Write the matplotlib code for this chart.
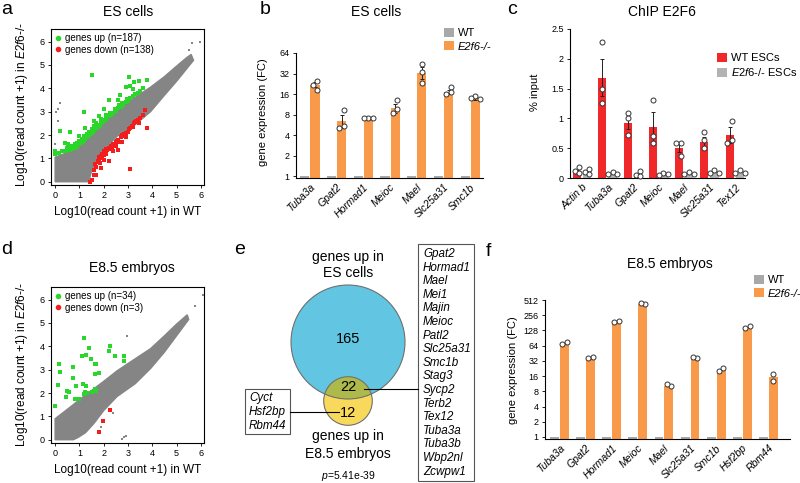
import matplotlib
matplotlib.use('Agg')
import matplotlib.pyplot as plt
import numpy as np
from matplotlib.patches import Circle, Rectangle, Patch
from matplotlib.lines import Line2D
from matplotlib.ticker import NullLocator

plt.rcParams['font.family'] = ['Liberation Sans', 'DejaVu Sans']
plt.rcParams['mathtext.fontset'] = 'custom'
plt.rcParams['mathtext.rm'] = 'Liberation Sans'
plt.rcParams['mathtext.it'] = 'Liberation Sans:italic'
plt.rcParams['axes.linewidth'] = 0.8

W, H = 800, 483

GREY_PT = '#858585'
GREEN = '#2bd62b'
RED_PT = '#f21d1d'
ORANGE = '#f99a4a'
WT_GREY = '#a8a8a8'
CHIP_RED = '#f0282a'
CHIP_GREY = '#b3b3b3'
BLUE = '#62c6e2'
YELLOW = '#f9d95c'
OLIVE = '#adba4b'

# ---------------- panel a : ES cells scatter ----------------
a_cloud_x = [0.0, 1.45, 1.42, 1.5, 1.7, 2.0, 2.55, 3.3, 3.93, 4.5, 5.0, 5.7, 5.6, 5.4, 5.0, 4.5, 3.93, 3.2, 2.55, 2.0, 1.17, 0.5, 0.0]
a_cloud_y = [0.0, 0.0, 0.15, 0.45, 0.9, 1.35, 1.95, 2.45, 3.0, 3.7, 4.3, 5.2, 5.45, 5.3, 4.95, 4.5, 4.05, 3.55, 3.03, 2.55, 1.74, 1.25, 1.05]
a_grey_x = [0.02, 0.12, 0.2, 0.1, 0.0, 5.65, 5.96, 5.51, 5.37]
a_grey_y = [3.0, 3.12, 3.35, 2.6, 1.6, 5.94, 6.0, 5.62, 5.15]
a_up_x = [0.0, 0.0, 0.15, 0.3, 0.45, 0.5, 0.55, 0.6, 0.65, 0.7, 0.7, 0.75, 0.8, 0.8, 0.85, 0.9, 0.9, 0.95,
          1.0, 1.0, 1.05, 1.1, 1.1, 1.15, 1.2, 1.2, 1.25, 1.3, 1.3, 1.35, 1.4, 1.4, 1.45, 1.5, 1.5, 1.55,
          1.6, 1.6, 1.65, 1.7, 1.7, 1.75, 1.8, 1.85, 1.9, 1.9, 1.95, 2.0, 2.05, 2.1, 2.1, 2.2, 2.25, 2.3,
          2.4, 2.45, 2.5, 2.6, 2.65, 2.7, 2.75, 2.8, 2.9, 2.95, 3.0, 3.1, 3.2, 3.3, 3.4, 3.5, 2.69, 2.2,
          2.93, 3.1, 3.2, 3.06, 3.44, 3.79, 1.17, 1.52, 0.21, 0.62, 2.0, 1.8, 1.6, 0.4, 1.25, 2.6, 3.6, 1.0, 3.24]
a_up_y = [1.3, 1.2, 1.25, 1.3, 1.3, 1.45, 1.6, 1.35, 1.45, 1.4, 1.55, 1.5, 1.45, 1.6, 1.55, 1.5, 1.65, 1.6,
          1.6, 1.75, 1.65, 1.7, 1.85, 1.75, 1.8, 1.95, 1.85, 1.9, 2.05, 1.95, 2.0, 2.15, 2.05, 2.1, 2.25, 2.15,
          2.2, 2.4, 2.25, 2.3, 2.5, 2.35, 2.4, 2.45, 2.5, 2.7, 2.55, 2.6, 2.65, 2.7, 2.85, 2.8, 2.95, 2.85,
          2.95, 3.1, 3.05, 3.15, 3.3, 3.2, 3.35, 3.3, 3.4, 3.55, 3.45, 3.6, 3.65, 3.75, 3.8, 3.9, 3.73, 3.52,
          4.05, 4.1, 3.95, 4.48, 4.31, 4.34, 2.98, 4.57, 2.16, 2.15, 3.1, 2.8, 2.6, 1.65, 2.3, 3.5, 4.0, 1.95, 4.29]
a_down_x = [1.45, 1.52, 1.58, 1.6, 1.65, 1.7, 1.75, 1.8, 1.8, 1.86, 1.85, 1.9, 1.95, 1.95, 2.0, 2.0, 2.05,
            2.1, 2.1, 2.15, 2.2, 2.23, 2.25, 2.3, 2.3, 2.35, 2.4, 2.45, 2.5, 2.5, 2.55, 2.6, 2.65, 2.7, 2.76,
            2.75, 2.8, 2.85, 2.9, 3.0, 3.05, 3.1, 3.15, 3.2, 3.25, 3.3, 3.35, 3.4, 3.5, 3.6, 3.72, 3.79, 3.1,
            2.6, 1.7, 2.0, 2.4, 1.9, 2.9, 3.45]
a_down_y = [0.0, 0.07, 0.29, 0.5, 0.75, 0.65, 0.9, 0.85, 1.05, 0.8, 1.0, 1.1, 1.0, 1.2, 1.15, 1.3, 1.25,
            1.2, 1.4, 1.35, 1.45, 0.9, 1.4, 1.55, 1.4, 1.5, 1.6, 1.55, 1.7, 1.55, 1.75, 1.8, 1.7, 1.9, 1.72,
            2.0, 1.95, 2.05, 2.1, 2.15, 2.25, 2.3, 2.4, 2.35, 2.5, 2.55, 2.6, 2.65, 2.75, 2.85, 3.08, 2.29, 0.55,
            1.35, 0.3, 0.95, 1.3, 0.6, 1.9, 2.5]
a_n_up, a_n_down = 187, 138

# ---------------- panel d : E8.5 embryos scatter ----------------
d_cloud_x = [0.0, 0.75, 0.95, 1.25, 1.6, 2.0, 2.55, 3.3, 3.93, 4.5, 5.0, 5.5, 5.44, 5.0, 4.5, 3.93, 3.2, 2.55, 2.0, 1.17, 0.5, 0.0]
d_cloud_y = [0.0, 0.0, 0.1, 0.3, 0.7, 1.25, 1.85, 2.4, 3.05, 3.75, 4.45, 5.15, 5.35, 4.95, 4.45, 3.9, 3.4, 2.95, 2.5, 1.85, 1.3, 0.9]
d_grey_x = [2.96, 2.76, 2.85, 2.93, 6.1, 5.74, 4.47, 4.06, 1.9, 2.4]
d_grey_y = [4.43, 0.03, 0.12, 0.18, 6.18, 5.72, 3.95, 3.6, 0.55, 1.15]
d_up_x = [1.17, 1.38, 2.27, 2.2, 1.1, 1.28, 1.47, 2.45, 2.82, 2.85, 0.15, 0.21, 0.73, 1.64, 1.7, 1.63, 1.79,
          0.73, 0.11, 1.14, 0.87, 1.28, 0.48, 1.21, 1.3, 1.52, 1.63, 0.59, 0.45, 0.83, 1.0, 0.0, 1.17, 1.7]
d_up_y = [4.35, 3.92, 4.03, 3.79, 3.58, 3.63, 3.46, 3.57, 3.6, 3.39, 3.25, 2.92, 3.1, 3.25, 3.25, 2.82, 2.86,
          2.63, 2.36, 2.39, 2.32, 2.32, 2.1, 2.03, 2.0, 2.06, 2.17, 2.06, 1.82, 1.75, 1.75, 1.43, 1.95, 2.1]
d_down_x = [2.25, 1.97, 1.79]
d_down_y = [1.29, 0.82, 0.34]
d_n_up, d_n_down = 34, 3

# ---------------- panel b : qPCR ES cells ----------------
b_genes = ['Tuba3a', 'Gpat2', 'Hormad1', 'Meioc', 'Mael', 'Slc25a31', 'Smc1b']
b_wt = [1, 1, 1, 1, 1, 1, 1]
b_ko = [22, 6.5, 7.0, 9.9, 33, 17, 13.6]
b_ko_err = [2.0, 1.5, 0.1, 1.5, 6.5, 1.2, 0.5]
b_ko_pts = [[24.8, 21.7, 18.4], [9.3, 5.4, 5.0], [7.0, 7.0, 7.0], [13, 9.6, 8.3],
            [43.7, 34, 23.4], [20.5, 17.3, 16], [15, 13.8, 13.4]]

# ---------------- panel c : ChIP E2F6 ----------------
c_genes = ['Actin b', 'Tuba3a', 'Gpat2', 'Meioc', 'Mael', 'Slc25a31', 'Tex12']
c_wt = [0.11, 1.68, 0.93, 0.86, 0.5, 0.6, 0.72]
c_wt_err = [0.03, 0.31, 0.1, 0.24, 0.07, 0.08, 0.13]
c_wt_pts = [[0.19, 0.12, 0.08], [2.28, 1.49, 1.26], [1.09, 1.0, 0.72], [1.31, 0.7, 0.58],
            [0.59, 0.58, 0.37], [0.78, 0.64, 0.5], [0.96, 0.63, 0.58]]
c_ko = [0.09, 0.07, 0.05, 0.05, 0.07, 0.1, 0.09]
c_ko_pts = [[0.15, 0.1, 0.07], [0.1, 0.06, 0.06], [0.12, 0.05, 0.03], [0.08, 0.05, 0.06],
            [0.1, 0.07, 0.06], [0.14, 0.09, 0.09], [0.13, 0.08, 0.09]]

# ---------------- panel e : overlap ----------------
venn_es_only, venn_both, venn_emb_only = 165, 22, 12
p_value = '5.41e-39'
genes_both = ['Gpat2', 'Hormad1', 'Mael', 'Mei1', 'Majin', 'Meioc', 'Patl2', 'Slc25a31', 'Smc1b',
              'Stag3', 'Sycp2', 'Terb2', 'Tex12', 'Tuba3a', 'Tuba3b', 'Wbp2nl', 'Zcwpw1']
genes_emb_only = ['Cyct', 'Hsf2bp', 'Rbm44']

# ---------------- panel f : qPCR E8.5 embryos ----------------
f_genes = ['Tuba3a', 'Gpat2', 'Hormad1', 'Meioc', 'Mael', 'Slc25a31', 'Smc1b', 'Hsf2bp', 'Rbm44']
f_wt = [1, 1, 1, 1, 1, 1, 1, 1, 1]
f_ko = [72, 37, 188, 430, 10.4, 36, 21, 148, 15]
f_ko_pts = [[75, 70], [39, 36], [196, 184], [425, 445], [10.4, 10.9], [36.7, 37.3], [22.6, 20.5],
            [158, 142], [17.7, 13]]


def px_axes(fig, left, top, right, bottom):
    return fig.add_axes([left / W, 1 - bottom / H, (right - left) / W, (bottom - top) / H])


def draw_scatter(ax, cloud_x, cloud_y, grey_x, grey_y, up_x, up_y, down_x, down_y, n_up, n_down):
    ax.fill(cloud_x, cloud_y, fc=GREY_PT, ec=GREY_PT, lw=1.0, zorder=1)
    ax.scatter(grey_x, grey_y, s=4, c=GREY_PT, marker='s', lw=0, zorder=2)
    ax.scatter(up_x, up_y, s=5, c=GREEN, marker='s', lw=0, zorder=3)
    ax.scatter(down_x, down_y, s=5, c=RED_PT, marker='s', lw=0, zorder=3)
    ax.set_xlim(-0.17, 6.13)
    ax.set_ylim(-0.14, 6.54)
    ax.set_xticks(range(7))
    ax.set_yticks(range(7))
    ax.tick_params(labelsize=6.5, length=2.5, width=0.6, pad=2)
    handles = [Line2D([], [], ls='none', marker='o', ms=4, mfc=GREEN, mec='none'),
               Line2D([], [], ls='none', marker='o', ms=4, mfc=RED_PT, mec='none')]
    ax.legend(handles, [f'genes up (n={n_up})', f'genes down (n={n_down})'], loc='upper left',
              frameon=False, fontsize=7, handlelength=0.6, handletextpad=0.35, borderaxespad=0.15,
              labelspacing=0.15, borderpad=0.3)


def add_points(ax, x0, vals, step=4.6):
    px0, _ = ax.transData.transform((x0, vals[0]))
    placed = []
    for v in vals:
        _, py = ax.transData.transform((x0, v))
        for k in [0, -1, 1, -2, 2]:
            cx = px0 + k * step
            if all((cx - qx) ** 2 + (py - qy) ** 2 >= step ** 2 for qx, qy in placed):
                break
        placed.append((cx, py))
    xs = [q[0] for q in placed]
    shift = (min(xs) + max(xs)) / 2 - px0
    pts = ax.transData.inverted().transform([(qx - shift, qy) for qx, qy in placed])
    ax.plot(pts[:, 0], pts[:, 1], 'o', ms=3.6, mfc='white', mec='#333333', mew=0.7, zorder=5, clip_on=False)


def style_bar_axes(ax, genes):
    ax.spines['top'].set_visible(False)
    ax.spines['right'].set_visible(False)
    ax.set_xticks(np.arange(len(genes)))
    ax.set_xticklabels(genes, rotation=45, ha='right', rotation_mode='anchor', fontstyle='italic', fontsize=7.5)
    ax.tick_params(axis='x', length=0, pad=3)
    ax.tick_params(axis='y', length=2.5, width=0.6, pad=2, labelsize=6.5)
    ax.patch.set_alpha(0)


def draw_fc(ax, genes, wt, ko, pts, err, ymin, ymax, xlim):
    x = np.arange(len(genes))
    ax.set_yscale('log', base=2)
    ax.set_ylim(ymin, ymax)
    ax.set_xlim(*xlim)
    ax.bar(x - 0.19, np.array(wt) - ymin, bottom=ymin, width=0.34, color=WT_GREY, zorder=2)
    ax.bar(x + 0.19, np.array(ko) - ymin, bottom=ymin, width=0.34, color=ORANGE, zorder=2)
    if err is not None:
        ax.errorbar(x + 0.19, ko, yerr=err, fmt='none', ecolor='#222222', elinewidth=0.7,
                    capsize=1.5, capthick=0.7, zorder=3)
    ticks = [2 ** k for k in range(int(np.log2(ymax)) + 1)]
    ax.set_yticks(ticks)
    ax.set_yticklabels([str(t) for t in ticks])
    ax.yaxis.set_minor_locator(NullLocator())
    ax.spines['left'].set_bounds(ymin, ymax)
    style_bar_axes(ax, genes)
    for i, p in enumerate(pts):
        add_points(ax, i + 0.19, p)


def bar_legend(ax, colors, labels, left, top, fontsize=8):
    handles = [Patch(fc=c, ec='none') for c in colors]
    leg = ax.legend(handles, labels, loc='upper left', bbox_to_anchor=(left / W, 1 - top / H),
                    bbox_transform=ax.figure.transFigure, frameon=False, fontsize=fontsize,
                    handlelength=0.9, handleheight=0.9, handletextpad=0.35, borderpad=0,
                    borderaxespad=0, labelspacing=0.25)
    return leg


fig = plt.figure(figsize=(W / 100, H / 100), dpi=100)

# a
ax_a = px_axes(fig, 51, 29, 204, 185)
draw_scatter(ax_a, a_cloud_x, a_cloud_y, a_grey_x, a_grey_y, a_up_x, a_up_y, a_down_x, a_down_y, a_n_up, a_n_down)

# d
ax_d = px_axes(fig, 51, 287, 204, 443)
draw_scatter(ax_d, d_cloud_x, d_cloud_y, d_grey_x, d_grey_y, d_up_x, d_up_y, d_down_x, d_down_y, d_n_up, d_n_down)

# b
ax_b = px_axes(fig, 296, 53, 483, 178)
draw_fc(ax_b, b_genes, b_wt, b_ko, b_ko_pts, b_ko_err, 0.935, 64, (-0.52, 6.48))
leg = bar_legend(ax_b, [WT_GREY, ORANGE], ['WT', 'E2f6-/-'], 444, 28)
leg.get_texts()[1].set_fontstyle('italic')

# c
ax_c = px_axes(fig, 570, 29, 745, 178)
xc = np.arange(len(c_genes))
ax_c.set_ylim(0, 2.5)
ax_c.set_xlim(-0.47, 6.4)
ax_c.bar(xc - 0.2, c_wt, width=0.32, color=CHIP_RED, zorder=2)
ax_c.bar(xc + 0.2, c_ko, width=0.32, color=CHIP_GREY, zorder=2)
ax_c.errorbar(xc - 0.2, c_wt, yerr=c_wt_err, fmt='none', ecolor='#222222', elinewidth=0.7,
              capsize=1.5, capthick=0.7, zorder=3)
ax_c.set_yticks([0, 0.5, 1, 1.5, 2, 2.5])
ax_c.set_yticklabels(['0', '0.5', '1', '1.5', '2', '2.5'])
style_bar_axes(ax_c, c_genes)
for i in range(len(c_genes)):
    add_points(ax_c, i - 0.2, c_wt_pts[i])
    add_points(ax_c, i + 0.2, c_ko_pts[i])
bar_legend(ax_c, [CHIP_RED, CHIP_GREY], ['WT ESCs', r'$\mathit{E2f6}$-/- ESCs'], 717, 53)

# f
ax_f = px_axes(fig, 545, 300, 790, 439)
draw_fc(ax_f, f_genes, f_wt, f_ko, f_ko_pts, None, 0.91, 512, (-0.56, 8.83))
leg = bar_legend(ax_f, [WT_GREY, ORANGE], ['WT', 'E2f6-/-'], 754, 275)
leg.get_texts()[1].set_fontstyle('italic')

# overlay for titles, labels and the Venn diagram
ov = fig.add_axes([0, 0, 1, 1])
ov.set_xlim(0, W)
ov.set_ylim(H, 0)
ov.axis('off')

for letter, (lx, ly) in zip('abcdef', [(7, 10), (265, 10), (512, 10), (7, 250), (240, 250), (488, 252)]):
    ov.text(lx, ly, letter, fontsize=14, ha='center', va='center')

for title, (tx, ty) in zip(['ES cells', 'ES cells', 'ChIP E2F6', 'E8.5 embryos', 'E8.5 embryos'],
                           [(128, 12), (376, 12), (662, 12), (132, 268), (670, 264)]):
    ov.text(tx, ty, title, fontsize=10, ha='center', va='center')

ylab = r'Log10(read count +1) in $\mathit{E2f6}$-/-'
ov.text(22, 104, ylab, fontsize=8.5, rotation=90, ha='center', va='center')
ov.text(22, 364, ylab, fontsize=8.5, rotation=90, ha='center', va='center')
ov.text(128, 212, 'Log10(read count +1) in WT', fontsize=8.5, ha='center', va='center')
ov.text(128, 470, 'Log10(read count +1) in WT', fontsize=8.5, ha='center', va='center')
ov.text(263, 112, 'gene expression (FC)', fontsize=8, rotation=90, ha='center', va='center')
ov.text(513, 370, 'gene expression (FC)', fontsize=8, rotation=90, ha='center', va='center')
ov.text(535, 92, '% input', fontsize=8, rotation=90, ha='center', va='center')

# Venn, circle areas proportional to the gene counts
scale = 57 / np.sqrt(venn_es_only + venn_both)
r_es = scale * np.sqrt(venn_es_only + venn_both)
r_emb = scale * np.sqrt(venn_both + venn_emb_only)
c_es = (348, 342)
c_emb = (348, 401)
big = Circle(c_es, r_es, fc=BLUE, ec='none', zorder=2)
ov.add_patch(big)
ov.add_patch(Circle(c_emb, r_emb, fc=YELLOW, ec='none', zorder=2))
overlap = Circle(c_emb, r_emb, fc=OLIVE, ec='none', zorder=3)
ov.add_patch(overlap)
overlap.set_clip_path(big)
ov.add_patch(Circle(c_es, r_es, fill=False, ec='#6f6f6f', lw=0.8, zorder=4))
ov.add_patch(Circle(c_emb, r_emb, fill=False, ec='#6f6f6f', lw=0.8, zorder=4))
ov.text(348, 339, str(venn_es_only), fontsize=10.5, ha='center', va='center', zorder=5)
ov.text(348, 387, str(venn_both), fontsize=10.5, ha='center', va='center', zorder=5)
ov.text(348, 413, str(venn_emb_only), fontsize=10.5, ha='center', va='center', zorder=5)
ov.text(348, 257, 'genes up in', fontsize=10, ha='center', va='center')
ov.text(348, 273, 'ES cells', fontsize=10, ha='center', va='center')
ov.text(348, 436, 'genes up in', fontsize=10, ha='center', va='center')
ov.text(348, 454, 'E8.5 embryos', fontsize=10, ha='center', va='center')
ov.text(348, 476, r'$p$=' + p_value, fontsize=7.5, ha='center', va='center')

# gene lists
ov.add_patch(Rectangle((418, 244), 56, 237, fill=False, ec='#555555', lw=0.8))
for i, g in enumerate(genes_both):
    ov.text(423, 254 + i * 13.6, g, fontsize=8.4, fontstyle='italic', ha='left', va='center')
ov.add_patch(Rectangle((245, 389), 45, 45, fill=False, ec='#555555', lw=0.8))
for i, g in enumerate(genes_emb_only):
    ov.text(249, 398 + i * 14, g, fontsize=8.4, fontstyle='italic', ha='left', va='center')
ov.plot([364, 418], [389, 389], color='black', lw=0.8, zorder=6)
ov.plot([290, 339], [412, 412], color='black', lw=0.8, zorder=6)

fig.savefig('out.png', dpi=100)
